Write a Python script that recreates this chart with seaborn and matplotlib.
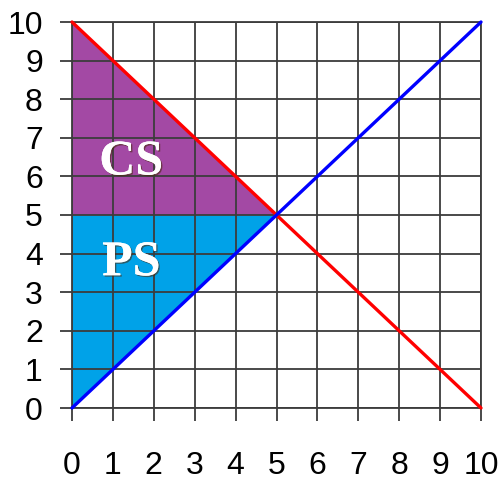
import matplotlib

matplotlib.use("Agg")

import matplotlib.pyplot as plt
import matplotlib.patheffects as pe
import numpy as np
import pandas as pd
import seaborn as sns

# market data
quantity = [0, 10]
demand_price = [10, 0]
supply_price = [0, 10]
eq_quantity = 5
eq_price = 5
surplus_labels = ["CS", "PS"]
ticks = list(range(0, 11))

GRID = "#3c3c3c"
PURPLE = "#a349a4"
BLUE = "#00a2e8"

sns.set_style("white")
plt.rcParams["font.family"] = ["Liberation Sans", "DejaVu Sans"]

fig = plt.figure(figsize=(5.03, 4.80), dpi=100)
ax = fig.add_axes([72 / 503, 1 - 408 / 480, 409 / 503, 386 / 480])

# surplus areas, bounded by the curves up to equilibrium
q_area = np.array([quantity[0], eq_quantity])
d_area = np.interp(q_area, quantity, demand_price)
s_area = np.interp(q_area, quantity, supply_price)
ax.fill_between(q_area, eq_price, d_area, color=PURPLE, linewidth=0, zorder=1)
ax.fill_between(q_area, s_area, eq_price, color=BLUE, linewidth=0, zorder=1)

ax.set_xlim(0, 10)
ax.set_ylim(0, 10)
ax.set_xticks(ticks)
ax.set_yticks(ticks)
ax.grid(True, color=GRID, linewidth=1.3, zorder=2)
ax.set_axisbelow(False)
for s in ax.spines.values():
    s.set_color(GRID)
    s.set_linewidth(1.3)

df = pd.DataFrame({"q": quantity, "demand": demand_price, "supply": supply_price})
sns.lineplot(data=df, x="q", y="demand", color="#ff0000", linewidth=2.4, ax=ax, zorder=3)
sns.lineplot(data=df, x="q", y="supply", color="#0000ff", linewidth=2.4, ax=ax, zorder=3)
for ln in ax.lines:
    ln.set_clip_on(False)

shadow = [pe.withSimplePatchShadow(offset=(1, -1), shadow_rgbFace="#4a2a10", alpha=0.6), pe.Normal()]
ax.text(1.45, 6.36, surplus_labels[0], ha="center", va="center", color="white",
        fontsize=36, fontweight="bold", family="Liberation Serif", zorder=4, path_effects=shadow)
ax.text(1.45, 3.75, surplus_labels[1], ha="center", va="center", color="white",
        fontsize=36, fontweight="bold", family="Liberation Serif", zorder=4, path_effects=shadow)

ax.tick_params(axis="both", direction="out", length=9, width=1.3, color=GRID,
               labelsize=23, labelcolor="black", bottom=True, left=True)
ax.tick_params(axis="x", pad=22)
ax.tick_params(axis="y", pad=12)
ax.set_xlabel("")
ax.set_ylabel("")

fig.savefig("out.png", dpi=100)
